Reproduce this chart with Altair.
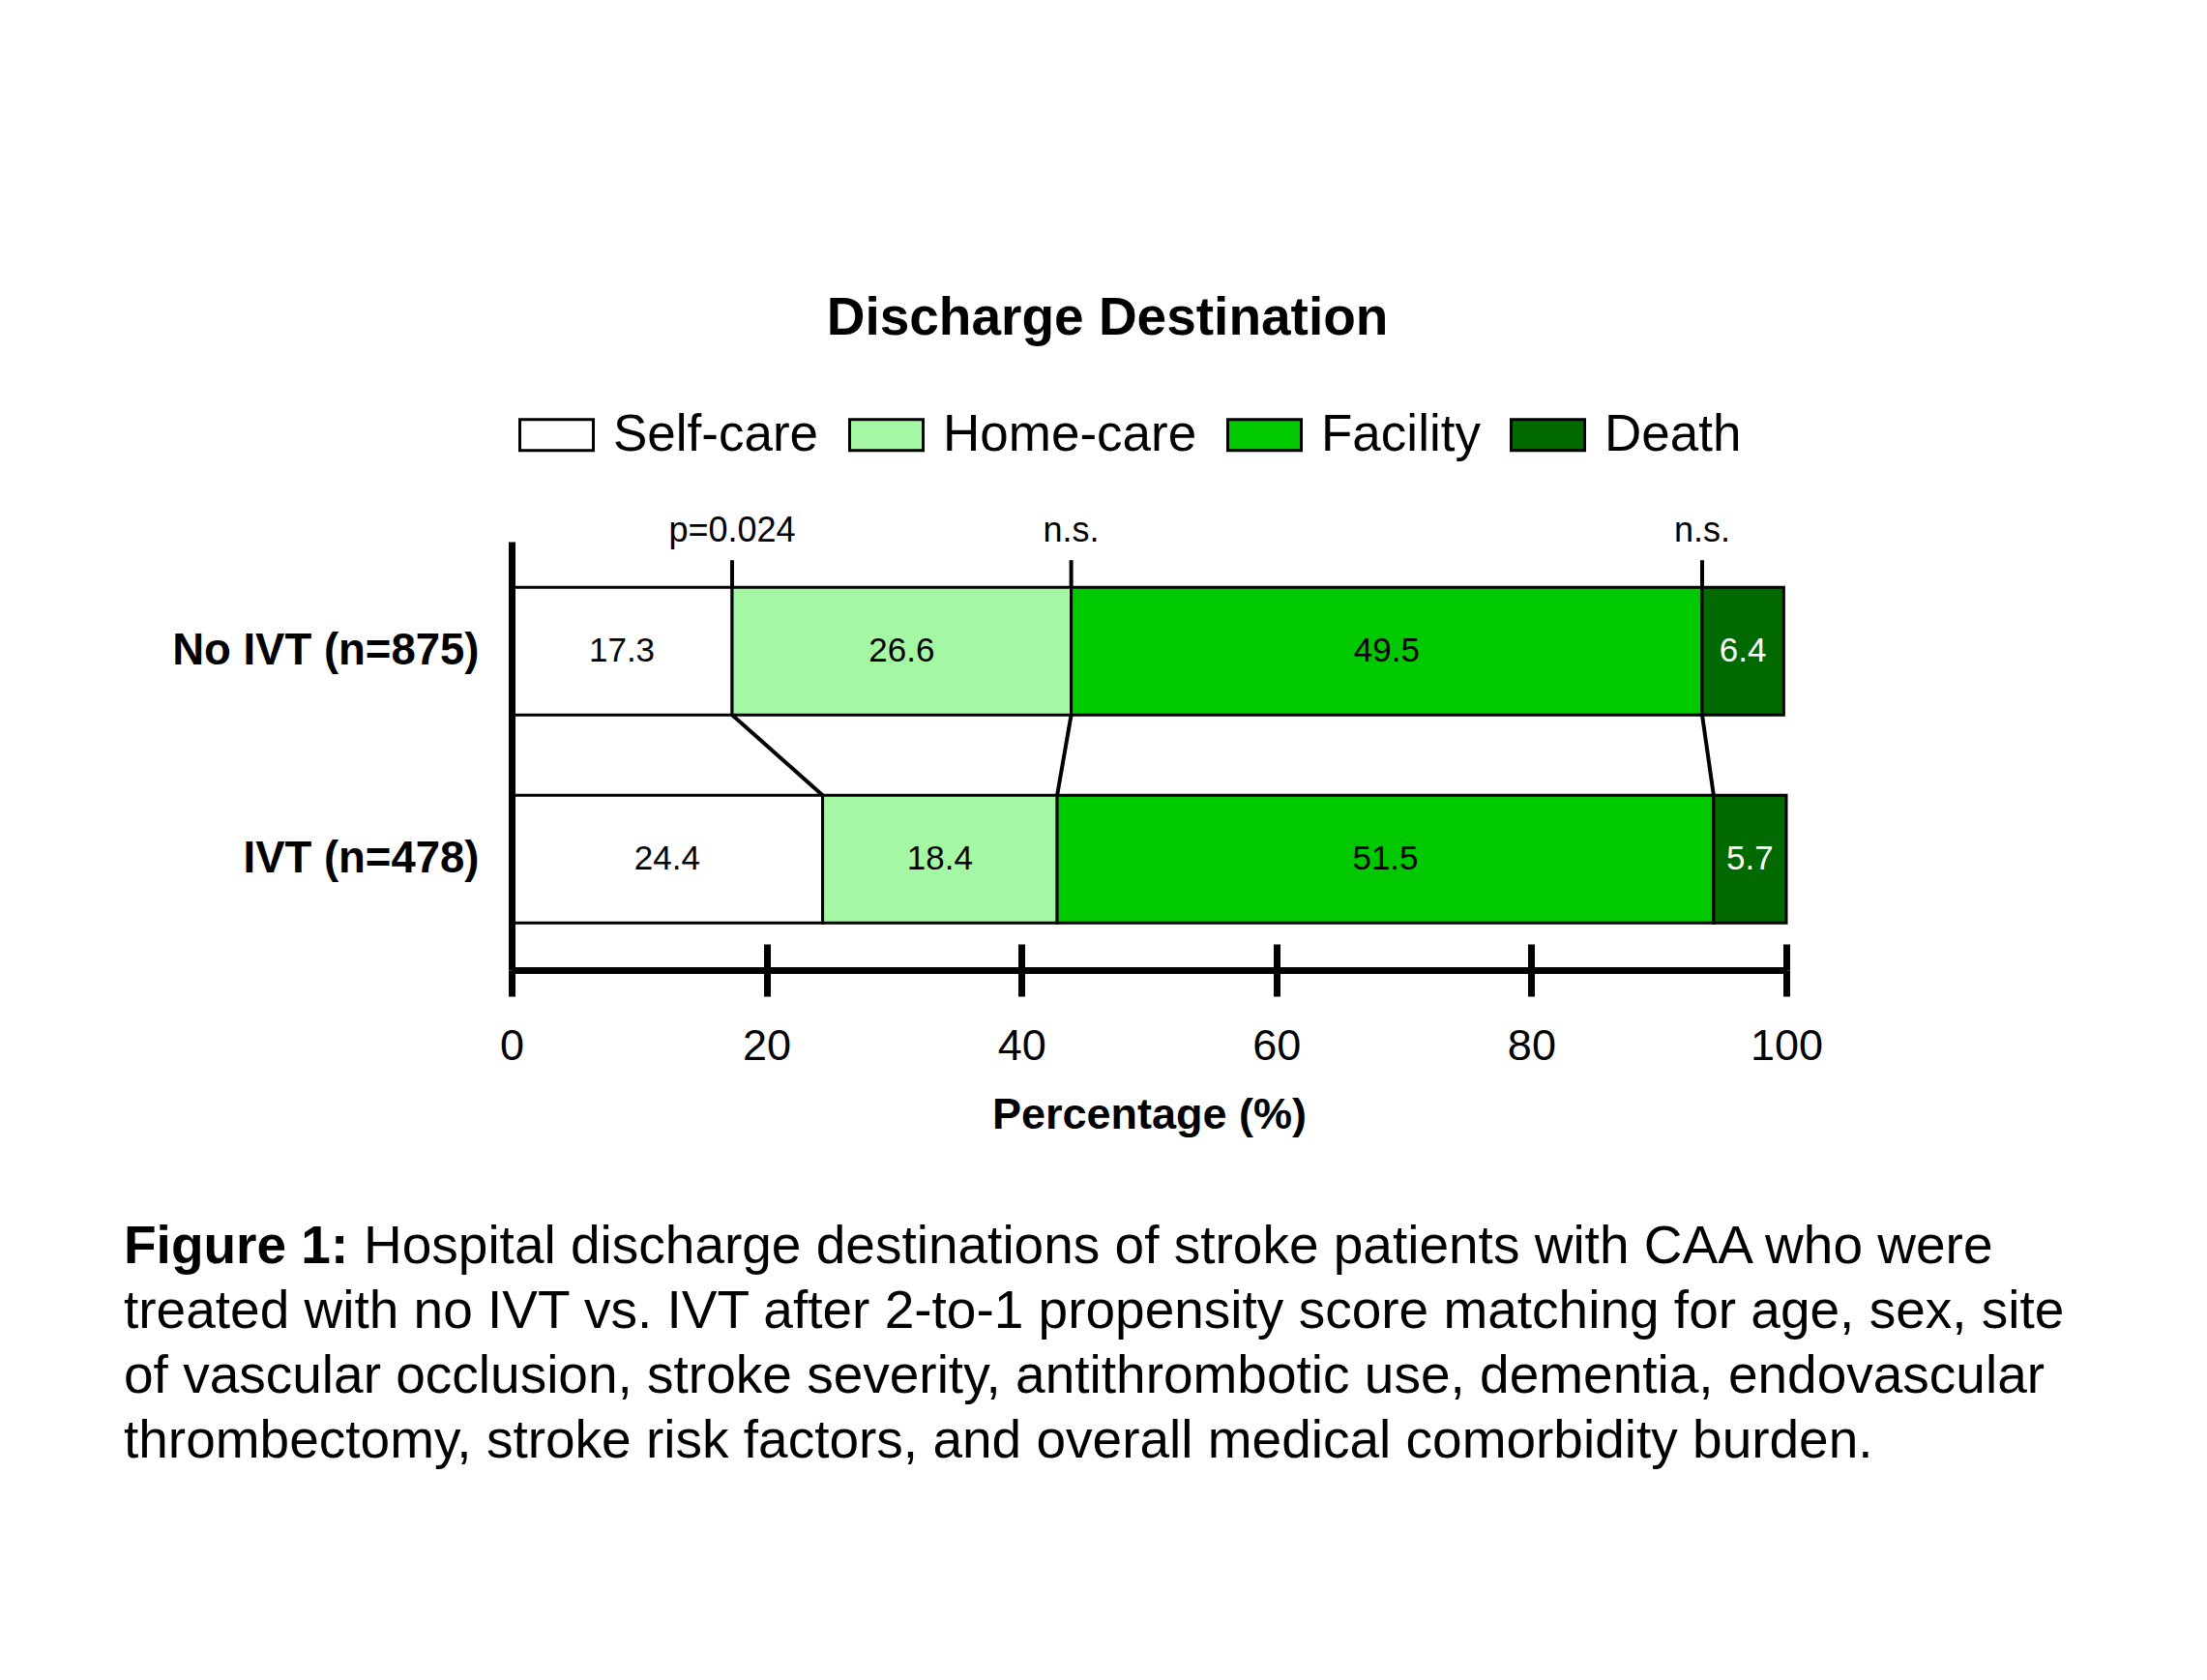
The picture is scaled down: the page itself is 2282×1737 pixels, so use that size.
import altair as alt
import pandas as pd

# ---------------- data ----------------
groups = ["No IVT (n=875)", "IVT (n=478)"]
categories = ["Self-care", "Home-care", "Facility", "Death"]
no_ivt = [17.3, 26.6, 49.5, 6.4]
ivt = [24.4, 18.4, 51.5, 5.7]
cat_colors = ["#FFFFFF", "#A4F8A4", "#00C900", "#006A00"]
label_colors = ["black", "black", "black", "white"]
p_labels = ["p=0.024", "n.s.", "n.s."]
x_ticks = [0, 20, 40, 60, 80, 100]
title_text = "Discharge Destination"
x_title = "Percentage (%)"
caption_lead = "Figure 1:"
caption_lines = [
    "Hospital discharge destinations of stroke patients with CAA who were",
    "treated with no IVT vs. IVT after 2-to-1 propensity score matching for age, sex, site",
    "of vascular occlusion, stroke severity, antithrombotic use, dementia, endovascular",
    "thrombectomy, stroke risk factors, and overall medical comorbidity burden.",
]

FONT = "Liberation Sans"

# ---------------- tables ----------------
rows = []
for g, vals in zip(groups, [no_ivt, ivt]):
    cum = 0.0
    for c, v, lc in zip(categories, vals, label_colors):
        rows.append(dict(group=g, cat=c, value=v, start=cum, end=cum + v,
                         mid=cum + v / 2, lcol=lc))
        cum += v
bars_df = pd.DataFrame(rows)

brows = []
for i, p in enumerate(p_labels):
    brows.append(dict(top=sum(no_ivt[: i + 1]), bottom=sum(ivt[: i + 1]), p=p,
                      row_a=groups[0], row_b=groups[1]))
bounds_df = pd.DataFrame(brows)

cap_df = pd.DataFrame({"line": list(range(len(caption_lines))), "text": caption_lines})
lead_df = pd.DataFrame({"line": [0], "text": [caption_lead]})

# ---------------- scales ----------------
xs = alt.Scale(domain=[0, 100], nice=False, zero=True)
ys = alt.Scale(domain=groups, paddingInner=0.386, paddingOuter=0.207, align=0.53)
cs = alt.Scale(domain=categories, range=cat_colors)

x_axis = alt.Axis(
    values=x_ticks, grid=False, domain=True, domainColor="black", domainWidth=7,
    ticks=True, tickColor="black", tickWidth=7, tickSize=27, offset=7,
    labelFontSize=45, labelFont=FONT, labelColor="black", labelPadding=29,
    labelFlush=False, zindex=1,
    title=x_title, titleFontSize=45, titleFont=FONT, titleFontWeight="bold",
    titleColor="black", titlePadding=26,
)
x_axis_top = alt.Axis(
    orient="top", offset=-443, values=x_ticks, grid=False, domain=False,
    ticks=True, tickColor="black", tickWidth=7, tickSize=27, labels=False, title=None,
)
y_axis = alt.Axis(
    grid=False, domain=True, domainColor="black", domainWidth=7, ticks=False,
    tickSize=0, labelFontSize=45.5, labelFont=FONT, labelFontWeight="bold",
    labelColor="black", labelPadding=34, labelLimit=800, title=None, zindex=1,
)
legend = alt.Legend(
    orient="none", direction="horizontal", legendX=7, legendY=-150, title=None,
    symbolType="M-1,-0.421H1V0.421H-1Z", symbolSize=5776,
    symbolStrokeColor="black", symbolStrokeWidth=3, symbolOpacity=1,
    labelFontSize=53, labelFont=FONT, labelColor="black", labelOffset=19,
    labelLimit=800, columnPadding=25, padding=0,
)

bars = alt.Chart(bars_df).mark_bar(stroke="black", strokeWidth=3, opacity=1).encode(
    x=alt.X("start:Q", scale=xs, axis=x_axis),
    x2="end:Q",
    y=alt.Y("group:N", scale=ys, sort=groups, axis=y_axis),
    color=alt.Color("cat:N", scale=cs, sort=categories, legend=legend),
)

seg_labels = alt.Chart(bars_df).mark_text(fontSize=35, font=FONT, baseline="middle").encode(
    x=alt.X("mid:Q", scale=xs, axis=None),
    y=alt.Y("group:N", scale=ys, sort=groups, axis=y_axis),
    text=alt.Text("value:Q", format=".1f"),
    color=alt.Color("lcol:N", scale=None),
)

connectors = alt.Chart(bounds_df).mark_rule(strokeWidth=4, color="black").encode(
    x=alt.X("top:Q", scale=xs, axis=None),
    x2="bottom:Q",
    y=alt.Y("row_a:N", scale=ys, sort=groups, axis=y_axis, bandPosition=1),
    y2=alt.Y2("row_b:N", bandPosition=0),
)

up_ticks = alt.Chart(bounds_df).mark_rule(strokeWidth=4, color="black", y2Offset=-28).encode(
    x=alt.X("top:Q", scale=xs, axis=x_axis_top),
    y=alt.Y("row_a:N", scale=ys, sort=groups, axis=y_axis, bandPosition=0),
    y2=alt.Y2("row_a:N", bandPosition=0),
)

p_text = alt.Chart(bounds_df).mark_text(fontSize=36, font=FONT, dy=-58, baseline="middle",
                                         color="black").encode(
    x=alt.X("top:Q", scale=xs, axis=None),
    y=alt.Y("row_a:N", scale=ys, sort=groups, axis=y_axis, bandPosition=0),
    text="p:N",
)

main = alt.layer(bars, seg_labels, connectors, up_ticks, p_text).resolve_axis(
    x="independent"
).properties(
    width=1318, height=436,
    title=alt.TitleParams(title_text, fontSize=55, font=FONT, fontWeight="bold",
                          color="black", anchor="middle", frame="group", dx=-43,
                          offset=173),
)

cy = alt.Y("line:O", axis=None)
cap_lead = alt.Chart(lead_df).mark_text(align="left", baseline="middle", fontSize=55,
                                        font=FONT, fontWeight="bold", color="black").encode(
    x=alt.value(-401), y=cy, text="text:N")
cap_first = alt.Chart(cap_df).transform_filter("datum.line == 0").mark_text(
    align="left", baseline="middle", fontSize=55, font=FONT, dx=248, color="black").encode(
    x=alt.value(-401), y=cy, text="text:N")
cap_rest = alt.Chart(cap_df).transform_filter("datum.line > 0").mark_text(
    align="left", baseline="middle", fontSize=55, font=FONT, color="black").encode(
    x=alt.value(-401), y=cy, text="text:N")
caption = alt.layer(cap_lead, cap_first, cap_rest).properties(width=1318, height=268)

chart = alt.vconcat(main, caption, spacing=80).properties(
    padding={"left": 120, "top": 294, "right": 10, "bottom": 10},
    background="white",
).configure(
    font=FONT, view=alt.ViewConfig(stroke="transparent", strokeWidth=0)
)

chart.save("out.html", embed_options={"renderer": "svg", "actions": False})
